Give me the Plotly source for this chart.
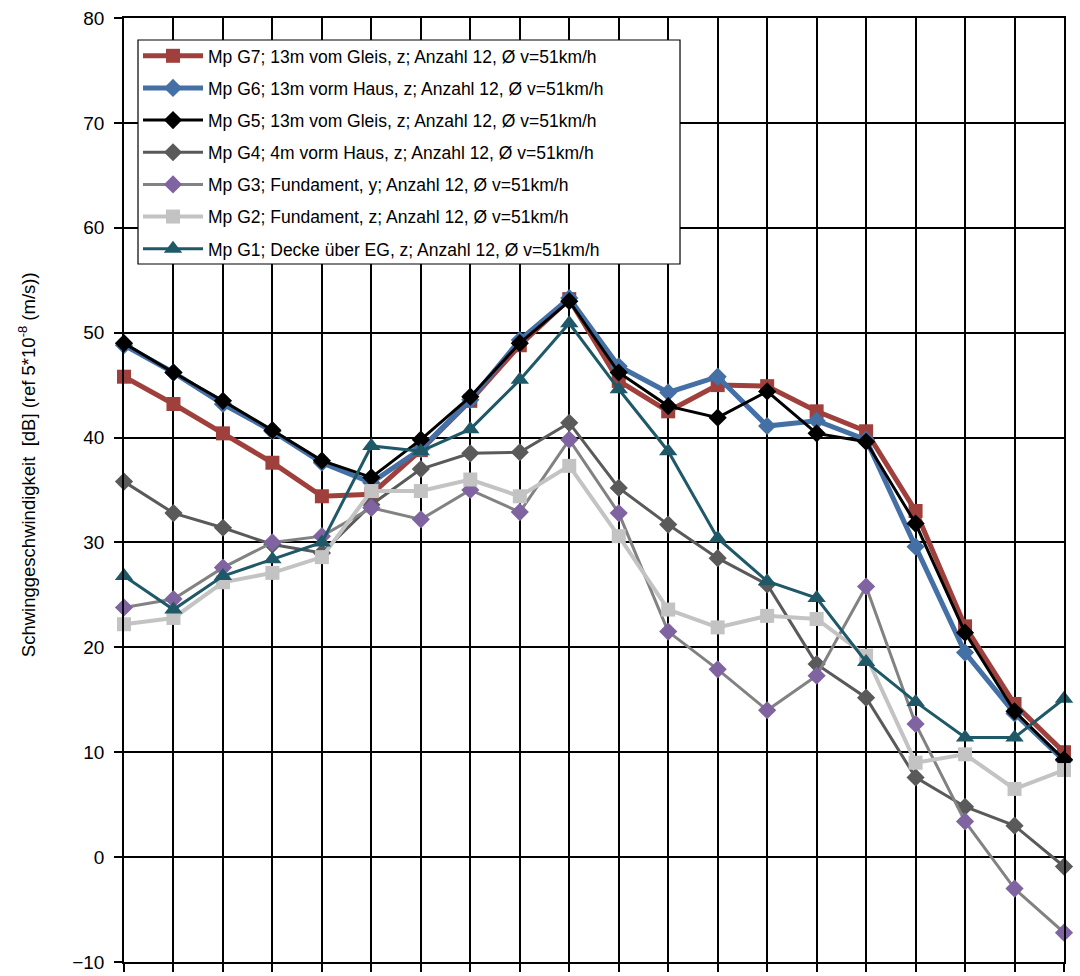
import plotly.graph_objects as go

categories = ["4", "5", "6.3", "8", "10", "12.5", "16", "20", "25", "31.5",
              "40", "50", "63", "80", "100", "125", "160", "200", "250", "315"]

g7 = [45.8, 43.2, 40.4, 37.6, 34.4, 34.6, 38.8, 43.5, 48.8, 53.2,
      45.4, 42.5, 45.0, 44.9, 42.5, 40.6, 33.0, 22.0, 14.6, 10.0]
g6 = [48.8, 46.2, 43.2, 40.6, 37.6, 35.7, 38.9, 43.6, 49.3, 53.3,
      46.8, 44.3, 45.8, 41.1, 41.6, 39.8, 29.6, 19.5, 13.7, 9.2]
g5 = [49.0, 46.2, 43.5, 40.7, 37.8, 36.2, 39.8, 43.9, 49.0, 53.0,
      46.2, 43.0, 41.9, 44.4, 40.4, 39.6, 31.8, 21.4, 13.9, 9.3]
g4 = [35.8, 32.8, 31.4, 29.8, 29.0, 33.6, 37.0, 38.5, 38.6, 41.4,
      35.2, 31.7, 28.5, 26.0, 18.4, 15.2, 7.6, 4.8, 3.0, -0.9]
g3 = [23.8, 24.6, 27.6, 30.0, 30.6, 33.3, 32.2, 35.0, 32.9, 39.8,
      32.8, 21.5, 17.9, 14.0, 17.3, 25.8, 12.7, 3.4, -3.0, -7.2]
g2 = [22.2, 22.8, 26.2, 27.1, 28.6, 34.9, 34.9, 36.0, 34.4, 37.3,
      30.6, 23.6, 21.9, 23.0, 22.7, 19.2, 9.0, 9.8, 6.5, 8.3]
g1 = [26.8, 23.6, 26.8, 28.4, 30.0, 39.2, 38.7, 40.8, 45.5, 50.9,
      44.6, 38.7, 30.4, 26.3, 24.7, 18.6, 14.8, 11.4, 11.4, 15.1]

names = [
    "Mp G7; 13m vom Gleis, z; Anzahl 12, Ø v=51km/h",
    "Mp G6; 13m vorm Haus, z; Anzahl 12, Ø v=51km/h",
    "Mp G5; 13m vom Gleis, z; Anzahl 12, Ø v=51km/h",
    "Mp G4; 4m vorm Haus, z; Anzahl 12, Ø v=51km/h",
    "Mp G3; Fundament, y; Anzahl 12, Ø v=51km/h",
    "Mp G2; Fundament, z; Anzahl 12, Ø v=51km/h",
    "Mp G1; Decke über EG, z; Anzahl 12, Ø v=51km/h",
]
y_title = "Schwinggeschwindigkeit  [dB] (ref 5*10<sup>-8</sup> (m/s))"
y_ticks = [-10, 0, 10, 20, 30, 40, 50, 60, 70, 80]

series = [g7, g6, g5, g4, g3, g2, g1]
styles = [
    dict(line="#A0403C", marker="#A0403C", lw=5, sym="square", ms=14),
    dict(line="#4470A6", marker="#4470A6", lw=5, sym="diamond", ms=14),
    dict(line="#000000", marker="#000000", lw=3, sym="diamond", ms=14),
    dict(line="#5A5A5A", marker="#5A5A5A", lw=3, sym="diamond", ms=14),
    dict(line="#828282", marker="#8064A2", lw=3, sym="diamond", ms=14),
    dict(line="#C3C3C3", marker="#C3C3C3", lw=4, sym="square", ms=14),
    dict(line="#1F5968", marker="#1F5968", lw=3, sym="triangle-up", ms=16),
]

FONT = "Arial, 'Liberation Sans', sans-serif"

fig = go.Figure()
for i, (vals, nm, st) in enumerate(zip(series, names, styles)):
    fig.add_trace(go.Scatter(
        x=categories, y=vals, name=nm, mode="lines+markers",
        legendgroup=f"g{i}",
        line=dict(color=st["line"], width=st["lw"]),
        marker=dict(color=st["marker"], symbol=st["sym"], size=st["ms"],
                    line=dict(width=0)),
        cliponaxis=False,
    ))

fig.update_layout(
    width=1080, height=976,
    margin=dict(l=124, r=16, t=18, b=14, autoexpand=False),
    paper_bgcolor="white", plot_bgcolor="white",
    font=dict(family=FONT, size=17, color="black"),
    showlegend=True,
    legend=dict(
        x=0.0149, y=0.9789, xanchor="left", yanchor="top",
        bgcolor="rgba(0,0,0,0)", borderwidth=0,
        font=dict(family=FONT, size=17.5, color="black"),
        tracegroupgap=6.4, traceorder="grouped", itemwidth=60,
    ),
    xaxis=dict(
        type="category", range=[0, 19], automargin=False,
        showticklabels=False, ticks="outside", ticklen=8, tickwidth=1.5,
        tickcolor="black",
        showgrid=True, gridcolor="black", gridwidth=1.5,
        showline=True, linecolor="black", linewidth=1.5, mirror=True,
        zeroline=False,
    ),
    yaxis=dict(
        range=[-10, 80], tickvals=y_ticks, ticks="outside", ticklen=8,
        automargin=False, ticklabeloverflow="allow",
        tickwidth=1.5, tickcolor="black", ticklabelstandoff=6,
        tickfont=dict(family=FONT, size=19, color="black"),
        showgrid=True, gridcolor="black", gridwidth=1.5,
        showline=True, linecolor="black", linewidth=1.5, mirror=True,
        zeroline=False,
    ),
    shapes=[dict(
        type="rect", xref="paper", yref="paper",
        x0=0.0149, x1=0.5915, y0=0.7394, y1=0.9767,
        fillcolor="white", line=dict(color="black", width=1.2), layer="above",
    )],
    annotations=[dict(
        text=y_title, xref="paper", yref="paper", x=-0.103, y=0.5265,
        xanchor="center", yanchor="middle", textangle=-90, showarrow=False,
        font=dict(family=FONT, size=18.5, color="black"),
    )],
)

fig.write_html(
    "out.html",
    config={"displayModeBar": False},
    post_script="document.body.style.margin='0';",
)
